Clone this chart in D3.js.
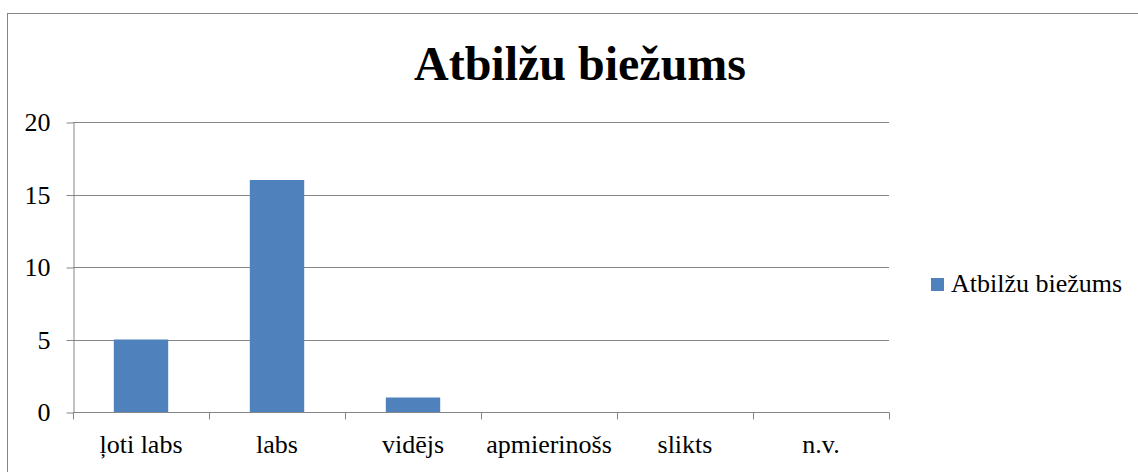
<!DOCTYPE html>
<html>
<head>
<meta charset="utf-8">
<script src="https://cdn.jsdelivr.net/npm/d3@7"></script>
<style>
  body { margin: 0; background: #fff; }
  svg { display: block; font-family: "Liberation Serif", "Times New Roman", serif; }
  .axis path, .axis line { stroke: #868686; }
  .axis text { fill: #000; font-size: 26px; font-family: "Liberation Serif", serif; }
</style>
</head>
<body>
<div id="chart"></div>
<script>
var categories = ['ļoti labs', 'labs', 'vidējs', 'apmierinošs', 'slikts', 'n.v.'];
var values = [5, 16, 1, 0, 0, 0];
var yTicks = [0, 5, 10, 15, 20];
var seriesName = 'Atbilžu biežums';
var chartTitle = 'Atbilžu biežums';

(function() {
    var width = 1138, height = 472,
        pLeft = 73, pTop = 122, pRight = 889, pBottom = 412,
        color = '#4F81BD';

    var svg = d3.select('#chart').append('svg')
        .attr('width', width)
        .attr('height', height);

    // chart frame (runs off the right and bottom edges)
    svg.append('rect')
        .attr('x', 7.5).attr('y', 13.5)
        .attr('width', 1200).attr('height', 500)
        .attr('fill', '#fff')
        .attr('stroke', '#868686')
        .attr('stroke-width', 1);

    svg.append('text')
        .attr('x', 580)
        .attr('y', 80)
        .attr('text-anchor', 'middle')
        .style('font-size', '48px')
        .style('font-weight', 'bold')
        .text(chartTitle);

    var xScale = d3.scaleBand()
        .domain(categories)
        .range([pLeft, pRight]);

    var yScale = d3.scaleLinear()
        .domain([0, 20])
        .range([pBottom, pTop]);

    // gridlines
    svg.append('g')
        .selectAll('line')
        .data(yTicks)
        .enter()
        .append('line')
        .attr('x1', pLeft).attr('x2', pRight)
        .attr('y1', function(d) { return Math.round(yScale(d)) + 0.5; })
        .attr('y2', function(d) { return Math.round(yScale(d)) + 0.5; })
        .attr('stroke', '#868686');

    // bars
    var bw = xScale.bandwidth() * 0.4;
    svg.append('g')
        .selectAll('rect')
        .data(values)
        .enter()
        .append('rect')
        .attr('x', function(d, i) { return xScale(categories[i]) + (xScale.bandwidth() - bw) / 2; })
        .attr('y', function(d) { return yScale(d); })
        .attr('width', bw)
        .attr('height', function(d) { return pBottom - yScale(d); })
        .attr('fill', color);

    // y axis
    var yAxis = d3.axisLeft(yScale)
        .tickValues(yTicks)
        .tickSize(7)
        .tickPadding(16)
        .tickSizeOuter(0);

    svg.append('g')
        .attr('class', 'y axis')
        .attr('transform', 'translate(' + (pLeft + 0.5) + ',0.5)')
        .call(yAxis);

    // x axis: ticks on band edges
    var xx = svg.append('g')
        .attr('class', 'x axis')
        .attr('transform', 'translate(0,' + (pBottom + 0.5) + ')');

    xx.append('line')
        .attr('x1', pLeft).attr('x2', pRight + 0.5)
        .attr('stroke', '#868686');

    var edges = categories.map(function(c) { return xScale(c); }).concat([pRight]);
    xx.selectAll('.tick')
        .data(edges)
        .enter()
        .append('line')
        .attr('class', 'tick')
        .attr('x1', function(d) { return Math.round(d) + 0.5; })
        .attr('x2', function(d) { return Math.round(d) + 0.5; })
        .attr('y1', 0).attr('y2', 7)
        .attr('stroke', '#868686');

    xx.selectAll('.lbl')
        .data(categories)
        .enter()
        .append('text')
        .attr('class', 'lbl')
        .attr('x', function(d) { return xScale(d) + xScale.bandwidth() / 2; })
        .attr('y', 40)
        .attr('text-anchor', 'middle')
        .text(function(d) { return d; });

    // legend
    var legend = svg.append('g')
        .attr('transform', 'translate(931,278)');

    legend.append('rect')
        .attr('width', 13).attr('height', 13)
        .attr('fill', color);

    legend.append('text')
        .attr('x', 20)
        .attr('y', 14)
        .style('font-size', '26px')
        .text(seriesName);
})();
</script>
</body>
</html>
